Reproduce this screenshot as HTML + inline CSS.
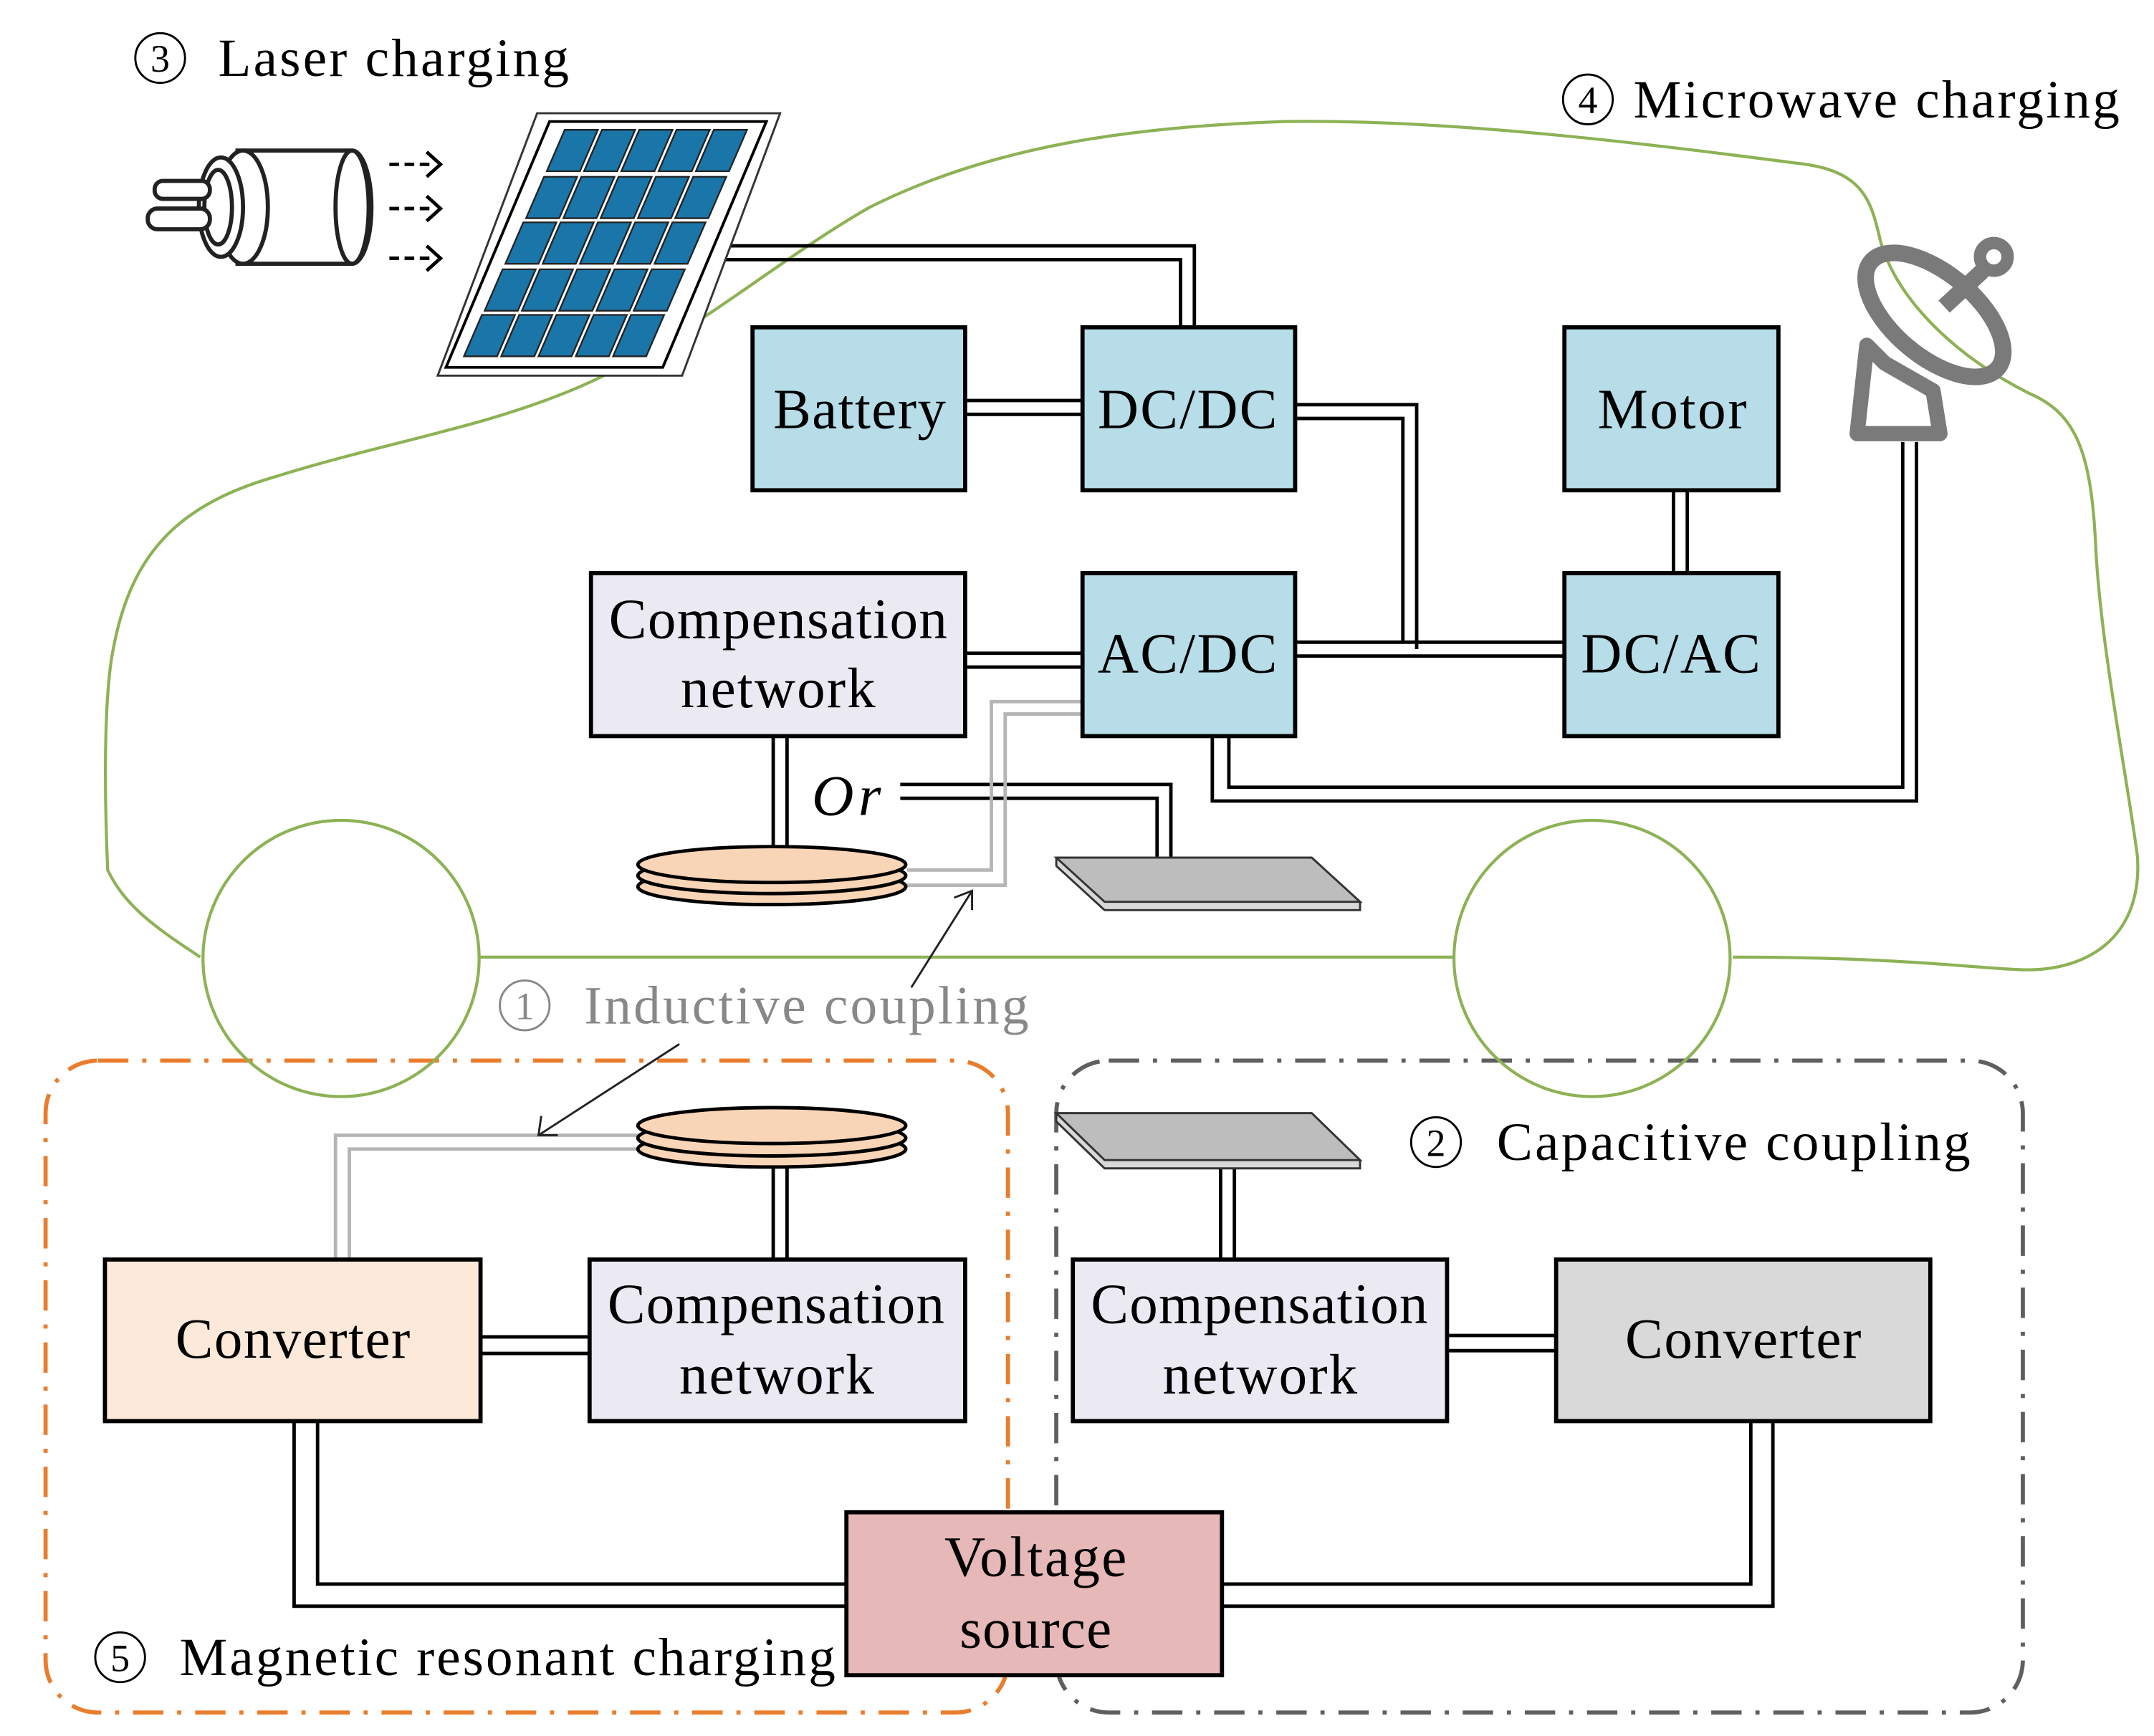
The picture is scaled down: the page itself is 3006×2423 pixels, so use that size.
<!DOCTYPE html>
<html><head><meta charset="utf-8"><style>
html,body{margin:0;padding:0;background:#fff;}
svg{display:block;}
text{font-family:"Liberation Serif",serif;}
</style></head><body>
<svg width="3006" height="2423" viewBox="0 0 1560 1257" preserveAspectRatio="none" xmlns="http://www.w3.org/2000/svg">
<rect width="1560" height="1257" fill="#fff"/>

<rect x="33" y="768" width="697" height="472" rx="38" fill="none" stroke="#e97d2d" stroke-width="3" stroke-dasharray="22,10,3,10"/>
<rect x="765" y="768" width="700" height="472" rx="38" fill="none" stroke="#5f5f5f" stroke-width="3" stroke-dasharray="22,10,3,10"/>

<g fill="none" stroke="#8db255" stroke-width="2.2">
<path d="M145,693 C110,670 90,655 78,630 C75,560 76,500 82,470 C95,400 130,365 200,345 C280,320 350,310 420,280 C500,245 560,190 630,150 C720,105 820,92 930,88 C1050,86 1200,105 1300,118 C1350,123 1355,145 1362,175 C1375,220 1420,260 1470,285 C1505,300 1515,330 1518,400 C1522,470 1540,560 1548,620 C1552,680 1510,705 1460,702 C1420,700 1370,693 1255,693"/>
<line x1="348" y1="693" x2="1053" y2="693"/>
<circle cx="247" cy="694" r="100"/>
<circle cx="1153" cy="694" r="100"/>
</g>

<g fill="none" stroke="#000" stroke-width="2.5">
<polyline points="480,178 865,178 865,237"/>
<polyline points="510,188 855,188 855,237"/>
<line x1="699" y1="290" x2="784" y2="290"/><line x1="699" y1="300" x2="784" y2="300"/>
<polyline points="938,293 1026,293 1026,470"/>
<polyline points="938,303 1016,303 1016,465"/>
<line x1="938" y1="465" x2="1133" y2="465"/><line x1="938" y1="475" x2="1133" y2="475"/>
<line x1="1212" y1="355" x2="1212" y2="415"/><line x1="1222" y1="355" x2="1222" y2="415"/>
<polyline points="878,533 878,580 1388,580 1388,320"/>
<polyline points="890,533 890,570 1378,570 1378,320"/>
<line x1="699" y1="473" x2="784" y2="473"/><line x1="699" y1="483" x2="784" y2="483"/>
<line x1="560" y1="533" x2="560" y2="620"/><line x1="570" y1="533" x2="570" y2="620"/>
<polyline points="652,568 848,568 848,632"/>
<polyline points="652,578 838,578 838,632"/>
<line x1="560" y1="845" x2="560" y2="912"/><line x1="570" y1="845" x2="570" y2="912"/>
<line x1="348" y1="968" x2="427" y2="968"/><line x1="348" y1="980" x2="427" y2="980"/>
<polyline points="213,1029 213,1163 613,1163"/>
<polyline points="230,1029 230,1147 613,1147"/>
<line x1="884" y1="843" x2="884" y2="912"/><line x1="894" y1="843" x2="894" y2="912"/>
<line x1="1048" y1="967" x2="1127" y2="967"/><line x1="1048" y1="978" x2="1127" y2="978"/>
<polyline points="1284,1029 1284,1163 885,1163"/>
<polyline points="1268,1029 1268,1147 885,1147"/>
</g>
<g fill="none" stroke="#b5b5b5" stroke-width="2.5">
<polyline points="657,630 718,630 718,508 784,508"/>
<polyline points="657,641 728,641 728,517 784,517"/>
<polyline points="462,822 243,822 243,912"/>
<polyline points="462,832 253,832 253,912"/>
</g>

<polygon points="389,82 565,82 494,272 317,272" fill="#fff" stroke="#333" stroke-width="1.5"/>
<polygon points="398,88 555,88 480,266 323,266" fill="none" stroke="#000" stroke-width="2"/>
<g fill="#1a75a8" stroke="#222" stroke-width="1.2">
<polygon points="409,94 433,94 420,124 396,124"/><polygon points="436,94 460,94 447,124 423,124"/><polygon points="463,94 487,94 474,124 450,124"/><polygon points="490,94 514,94 501,124 477,124"/><polygon points="517,94 541,94 528,124 504,124"/>
<polygon points="394,128 418,128 405,158 381,158"/><polygon points="421,128 445,128 432,158 408,158"/><polygon points="448,128 472,128 459,158 435,158"/><polygon points="475,128 499,128 486,158 462,158"/><polygon points="502,128 526,128 513,158 489,158"/>
<polygon points="379,161 403,161 390,191 366,191"/><polygon points="406,161 430,161 417,191 393,191"/><polygon points="433,161 457,161 444,191 420,191"/><polygon points="460,161 484,161 471,191 447,191"/><polygon points="487,161 511,161 498,191 474,191"/>
<polygon points="364,195 388,195 375,225 351,225"/><polygon points="391,195 415,195 402,225 378,225"/><polygon points="418,195 442,195 429,225 405,225"/><polygon points="445,195 469,195 456,225 432,225"/><polygon points="472,195 496,195 483,225 459,225"/>
<polygon points="349,228 373,228 360,258 336,258"/><polygon points="376,228 400,228 387,258 363,258"/><polygon points="403,228 427,228 414,258 390,258"/><polygon points="430,228 454,228 441,258 417,258"/><polygon points="457,228 481,228 468,258 444,258"/>
</g>

<g fill="#fff" stroke="#222" stroke-width="3">
<path d="M172,109 L255,109 A14,41 0 0 1 255,191 L172,191 Z" />
<ellipse cx="255" cy="150" rx="12" ry="41" fill="none"/>
<ellipse cx="176" cy="150" rx="18" ry="41"/>
<ellipse cx="160" cy="150" rx="16" ry="36"/>
<ellipse cx="158" cy="150" rx="10" ry="27"/>
<rect x="112" y="131" width="40" height="13" rx="6"/>
<rect x="107" y="151" width="45" height="15" rx="7"/>
</g>
<g stroke="#000" stroke-width="2.5" fill="none">
<line x1="282" y1="119" x2="313" y2="119" stroke-dasharray="7,4"/><polyline points="309,110 319,119 309,128"/>
<line x1="282" y1="151" x2="313" y2="151" stroke-dasharray="7,4"/><polyline points="309,142 319,151 309,160"/>
<line x1="282" y1="187" x2="313" y2="187" stroke-dasharray="7,4"/><polyline points="309,178 319,187 309,196"/>
</g>

<g fill="none" stroke="#7a7a7a" stroke-width="12">
<ellipse cx="1401" cy="228" rx="60" ry="30" transform="rotate(40 1401 228)"/>
<line x1="1408" y1="222" x2="1436" y2="196"/>
<circle cx="1444" cy="186" r="10" stroke-width="9"/>
<polygon points="1352,250 1345,314 1405,314 1400,283 1365,263" stroke-width="11" stroke-linejoin="round"/>
</g>

<g fill="#f9d5b7" stroke="#000" stroke-width="2.5">
<ellipse cx="559" cy="642" rx="97" ry="13"/>
<ellipse cx="559" cy="634" rx="97" ry="13"/>
<ellipse cx="559" cy="626" rx="97" ry="13"/>
<ellipse cx="559" cy="832" rx="97" ry="13"/>
<ellipse cx="559" cy="824" rx="97" ry="13"/>
<ellipse cx="559" cy="815" rx="97" ry="13"/>
</g>

<g stroke="#333" stroke-width="1.5">
<polygon points="765,621 950,621 985,653 985,659 800,659 765,627" fill="#d8d8d8"/>
<polygon points="765,621 950,621 985,653 800,653" fill="#bdbdbd"/>
<polygon points="765,806 950,806 985,840 985,846 800,846 765,812" fill="#d8d8d8"/>
<polygon points="765,806 950,806 985,840 800,840" fill="#bdbdbd"/>
</g>

<g stroke="#222" stroke-width="1.5" fill="none">
<line x1="660" y1="715" x2="704" y2="645"/><polyline points="691,650 704,645 704,659"/>
<line x1="492" y1="756" x2="390" y2="822"/><polyline points="392,808 390,822 404,822"/>
</g>

<g stroke="#000" stroke-width="3">
<rect x="545" y="237" width="154" height="118" fill="#b7dde8"/>
<rect x="784" y="237" width="154" height="118" fill="#b7dde8"/>
<rect x="1133" y="237" width="155" height="118" fill="#b7dde8"/>
<rect x="784" y="415" width="154" height="118" fill="#b7dde8"/>
<rect x="1133" y="415" width="155" height="118" fill="#b7dde8"/>
<rect x="428" y="415" width="271" height="118" fill="#ebe9f2"/>
<rect x="76" y="912" width="272" height="117" fill="#fde9d9"/>
<rect x="427" y="912" width="272" height="117" fill="#ebe9f2"/>
<rect x="777" y="912" width="271" height="117" fill="#ebe9f2"/>
<rect x="1127" y="912" width="271" height="117" fill="#d9d9d9"/>
<rect x="613" y="1095" width="272" height="118" fill="#e6b8b7"/>
</g>

<g font-size="41" fill="#000" lengthAdjust="spacing">
<text x="560" y="310" textLength="125">Battery</text>
<text x="795" y="310" textLength="130">DC/DC</text>
<text x="1157" y="310" textLength="108">Motor</text>
<text x="795" y="487" textLength="130">AC/DC</text>
<text x="1145" y="487" textLength="130">DC/AC</text>
<text x="441" y="462" textLength="245">Compensation</text>
<text x="493" y="512" textLength="141">network</text>
<text x="127" y="983" textLength="170">Converter</text>
<text x="440" y="958" textLength="244">Compensation</text>
<text x="492" y="1009" textLength="141">network</text>
<text x="790" y="958" textLength="244">Compensation</text>
<text x="842" y="1009" textLength="141">network</text>
<text x="1177" y="983" textLength="171">Converter</text>
<text x="684" y="1141" textLength="132">Voltage</text>
<text x="695" y="1193" textLength="110">source</text>
</g>
<g font-size="39" fill="#000">
<text x="158" y="55" textLength="254">Laser charging</text>
<text x="1183" y="85" textLength="352">Microwave charging</text>
<text x="1084" y="840" textLength="343">Capacitive coupling</text>
<text x="130" y="1213" textLength="475">Magnetic resonant charging</text>
<text x="423" y="741" fill="#888" textLength="322">Inductive coupling</text>
<text x="588" y="590" font-style="italic" font-size="42" textLength="50">Or</text>
</g>
<g fill="none" stroke="#000" stroke-width="1.5">
<circle cx="116" cy="42" r="18"/>
<circle cx="1150" cy="72" r="18"/>
<circle cx="1040" cy="827" r="18"/>
<circle cx="87" cy="1200" r="18"/>
<circle cx="380" cy="728" r="18" stroke="#888"/>
</g>
<g font-size="28" text-anchor="middle" fill="#000">
<text x="116" y="52">3</text>
<text x="1150" y="82">4</text>
<text x="1040" y="837">2</text>
<text x="87" y="1210">5</text>
<text x="380" y="738" fill="#888">1</text>
</g>
</svg>
</body></html>
